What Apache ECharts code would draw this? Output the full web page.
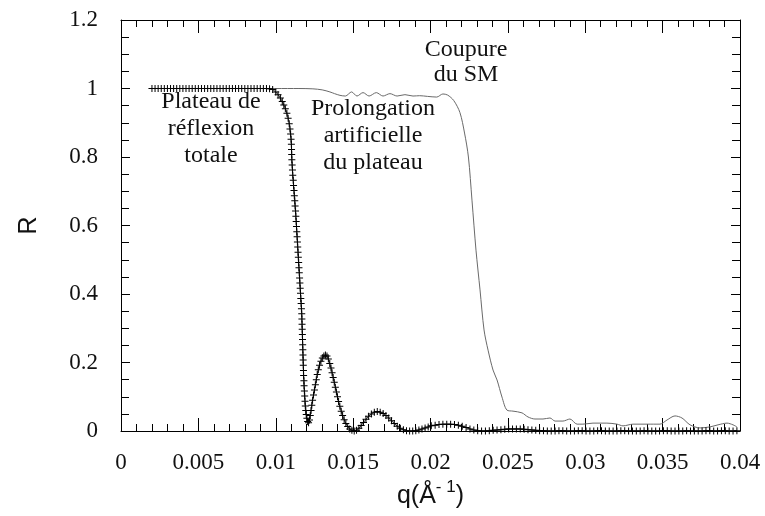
<!DOCTYPE html>
<html>
<head>
<meta charset="utf-8">
<script src="https://cdn.jsdelivr.net/npm/echarts@6/dist/echarts.min.js"></script>
<style>html,body{margin:0;padding:0;background:#fff;}#c{width:765px;height:516px;}</style>
</head>
<body>
<div id="c"></div>
<script>
// ---- data (q in Å^-1, R) ----
var xTickLabels = ['0', '0.005', '0.01', '0.015', '0.02', '0.025', '0.03', '0.035', '0.04'];
var yTickLabels = ['0', '0.2', '0.4', '0.6', '0.8', '1', '1.2'];

// simulated curve with crosses: total reflection plateau
var crossPlateau = [
  [0.0020,1],[0.0022,1],[0.0024,1],[0.0026,1],[0.0028,1],[0.0030,1],[0.0032,1],[0.0034,1],
  [0.0036,1],[0.0038,1],[0.0040,1],[0.0042,1],[0.0044,1],[0.0046,1],[0.0048,1],[0.0050,1],
  [0.0052,1],[0.0054,1],[0.0056,1],[0.0058,1],[0.0060,1],[0.0062,1],[0.0064,1],[0.0066,1],
  [0.0068,1],[0.0070,1],[0.0072,1],[0.0074,1],[0.0076,1],[0.0078,1],[0.0080,1],[0.0082,1],
  [0.0084,1],[0.0086,1],[0.0088,1],[0.0090,1],[0.0092,1],[0.0094,1],[0.0096,0.999],[0.0098,0.997],
  [0.0100,0.990],[0.01015,0.982],[0.0103,0.972],[0.01042,0.962],[0.01052,0.952],[0.01062,0.941],
  [0.01072,0.928],[0.01080,0.913],[0.01087,0.897],[0.01092,0.882],[0.01096,0.867],[0.01099,0.852]
];
// critical edge drop
var crossDrop = [
  [0.01101,0.837],[0.01102,0.822],[0.01103,0.807],[0.01104,0.792],[0.01106,0.777],[0.01108,0.762],
  [0.01110,0.747],[0.01113,0.732],[0.01115,0.717],[0.01118,0.702],[0.01120,0.687],[0.01123,0.672],
  [0.01125,0.657],[0.01128,0.642],[0.01130,0.627],[0.01132,0.612],[0.01134,0.597],[0.01136,0.582],
  [0.01138,0.567],[0.01140,0.552],[0.01142,0.537],[0.01144,0.522],[0.01146,0.507],[0.01148,0.492],
  [0.01150,0.477],[0.01152,0.462],[0.01154,0.447],[0.01156,0.432],[0.01158,0.417],[0.01160,0.402],
  [0.01162,0.387],[0.01164,0.372],[0.01166,0.357],[0.01168,0.342],[0.01169,0.327],[0.01170,0.312],
  [0.01171,0.297],[0.01172,0.282],[0.01173,0.267],[0.01174,0.252],[0.01175,0.237],[0.01176,0.222],
  [0.01177,0.207],[0.01178,0.192],[0.01179,0.177],[0.01180,0.162],[0.01182,0.147],[0.01183,0.132],
  [0.01185,0.117],[0.01187,0.102],[0.01189,0.087],[0.01191,0.073],[0.01194,0.060],[0.01197,0.048],
  [0.01201,0.037],[0.01206,0.028],[0.01212,0.024]
];
// Kiessig fringes
var crossFringes = [
  [0.01218,0.032],[0.01223,0.045],[0.01228,0.060],[0.01233,0.075],[0.01238,0.090],[0.01244,0.105],
  [0.01250,0.120],[0.01256,0.135],[0.01262,0.150],[0.01268,0.165],[0.01275,0.179],[0.01283,0.192],
  [0.01292,0.204],[0.01301,0.213],[0.01311,0.219],[0.01321,0.222],[0.01331,0.219],[0.01340,0.210],
  [0.01349,0.197],[0.01357,0.184],[0.01364,0.170],[0.01371,0.156],[0.01378,0.142],[0.01385,0.128],
  [0.01392,0.114],[0.01399,0.100],[0.01406,0.086],[0.01414,0.072],[0.01423,0.058],[0.01432,0.045],
  [0.01442,0.033],[0.01453,0.022],[0.01465,0.013],[0.01478,0.006],[0.01492,0.002],[0.01507,0.000],
  [0.01522,0.002],[0.01537,0.008],[0.01552,0.016],[0.01567,0.025],[0.01583,0.034],[0.01600,0.043],
  [0.01618,0.050],[0.01637,0.055],[0.01656,0.057],[0.01675,0.055],[0.01694,0.051],[0.01712,0.045],
  [0.01730,0.038],[0.01748,0.030],[0.01766,0.022],[0.01785,0.014],[0.01805,0.008],[0.01825,0.004],
  [0.01845,0.001],[0.01865,0.000],[0.01885,0.000],[0.01905,0.001],[0.01925,0.003],[0.01945,0.006],
  [0.01965,0.009],[0.01985,0.012],[0.02005,0.015],[0.02030,0.017],[0.02055,0.019],[0.02080,0.020],
  [0.02105,0.020],[0.02130,0.020],[0.02155,0.019],[0.02180,0.017],[0.02205,0.014],[0.02230,0.010],
  [0.02255,0.006],[0.02280,0.003],[0.02305,0.001],[0.02330,0.000],[0.02355,0.000],[0.02380,0.001],
  [0.02405,0.002],[0.02430,0.003],[0.02455,0.004],[0.02480,0.005],[0.02505,0.006],[0.02530,0.006],
  [0.02555,0.006],[0.02580,0.006],[0.02605,0.005],[0.02630,0.004],[0.02655,0.003],[0.02680,0.002],
  [0.02705,0.001],[0.02730,0.001],[0.02755,0.000]
];
var crossTail = [
  [0.02780,0.000],[0.02805,0.000],[0.02830,0.001],[0.02855,0.001],[0.02880,0.000],[0.02905,0.000],
  [0.02930,0.000],[0.02955,0.001],[0.02980,0.001],[0.03005,0.000],[0.03030,0.000],[0.03055,0.000],
  [0.03080,0.001],[0.03105,0.001],[0.03130,0.000],[0.03155,0.000],[0.03180,0.000],[0.03205,0.000],
  [0.03230,0.001],[0.03255,0.001],[0.03280,0.000],[0.03305,0.000],[0.03330,0.000],[0.03355,0.000],
  [0.03380,0.001],[0.03405,0.000],[0.03430,0.000],[0.03455,0.000],[0.03480,0.000],[0.03505,0.001],
  [0.03530,0.001],[0.03555,0.000],[0.03580,0.000],[0.03605,0.000],[0.03630,0.000],[0.03655,0.001],
  [0.03680,0.000],[0.03705,0.000],[0.03730,0.000],[0.03755,0.000],[0.03780,0.001],[0.03805,0.001],
  [0.03830,0.000],[0.03855,0.000],[0.03880,0.001],[0.03905,0.001],[0.03930,0.000],[0.03955,0.000],
  [0.03980,0.001]
];

// measured curve with cut-off of the supermirror (thin line)
var smPlateau = [
  [0.0020,1.0],[0.0040,1.0],[0.0060,1.0],[0.0080,1.0],[0.0100,1.0],[0.0115,1.0],[0.0124,0.999],
  [0.0130,0.996],[0.0135,0.990],[0.0138,0.985],[0.01415,0.980],[0.0145,0.978],[0.0149,0.990],
  [0.01525,0.978],[0.01564,0.988],[0.01603,0.978],[0.0165,0.988],[0.01693,0.978],[0.01738,0.985],
  [0.01784,0.978],[0.01835,0.982],[0.01887,0.978],[0.0193,0.979],[0.0198,0.977],[0.0204,0.975],
  [0.0208,0.984],[0.0211,0.981]
];
var smDrop = [
  [0.0215,0.965],[0.0219,0.930],[0.0222,0.870],[0.02245,0.800],[0.02268,0.674],[0.02294,0.528],
  [0.0232,0.412],[0.02346,0.295],[0.02372,0.236],[0.02404,0.178],[0.0243,0.149],[0.02462,0.099],
  [0.02494,0.061]
];
var smTail = [
  [0.02533,0.058],[0.02591,0.053],[0.0263,0.041],[0.02675,0.035],[0.02727,0.035],[0.02772,0.038],
  [0.02805,0.029],[0.02856,0.029],[0.02901,0.035],[0.02947,0.020],[0.02985,0.020],[0.0305,0.023],
  [0.0314,0.023],[0.03205,0.020],[0.03244,0.015],[0.03309,0.020],[0.03399,0.020],[0.03483,0.020],
  [0.03528,0.032],[0.0358,0.044],[0.03625,0.038],[0.03677,0.018],[0.03742,0.009],[0.03806,0.012],
  [0.03858,0.018],[0.03916,0.023],[0.03955,0.018],[0.0398,0.012]
];

var crossData = crossPlateau.concat(crossDrop, crossFringes, crossTail);
var smData = smPlateau.concat(smDrop, smTail);

var serif = "'Liberation Serif', 'Times New Roman', serif";
var sans = "'Liberation Sans', Arial, sans-serif";
var chart = echarts.init(document.getElementById('c'), null, {renderer: 'canvas'});

function xAx(pos, show) {
  return {
    type: 'value', position: pos, min: 0, max: 0.04, interval: 0.005,
    axisLine: {show: true, onZero: false, lineStyle: {color: '#000', width: 1}},
    axisTick: {show: true, inside: true, length: 13, lineStyle: {color: '#000', width: 1}},
    minorTick: {show: true, splitNumber: 5, length: 7, lineStyle: {color: '#000', width: 1}},
    splitLine: {show: false}, minorSplitLine: {show: false},
    axisLabel: {show: show, margin: 20, color: '#111', fontFamily: serif, fontSize: 23,
      formatter: function (v) { var i = Math.round(v / 0.005); return xTickLabels[i]; }},
    name: show ? '{b|q(Å}{s|- 1}{b|)}' : '',
    nameLocation: 'middle', nameGap: 48,
    nameTextStyle: {rich: {
      b: {fontFamily: sans, fontSize: 25, color: '#111', lineHeight: 30, verticalAlign: 'bottom'},
      s: {fontFamily: sans, fontSize: 17, color: '#111', lineHeight: 30, verticalAlign: 'top', padding: [0, 0, 0, 0]}
    }}
  };
}
function yAx(pos, show) {
  return {
    type: 'value', position: pos, min: 0, max: 1.2, interval: 0.2,
    axisLine: {show: true, onZero: false, lineStyle: {color: '#000', width: 1}},
    axisTick: {show: true, inside: true, length: 9, lineStyle: {color: '#000', width: 1}},
    minorTick: {show: true, splitNumber: 4, length: 8, lineStyle: {color: '#000', width: 1}},
    splitLine: {show: false}, minorSplitLine: {show: false},
    axisLabel: {show: show, margin: 23, color: '#111', fontFamily: serif, fontSize: 23,
      formatter: function (v) { var i = Math.round(v / 0.2); return yTickLabels[i]; }},
    name: show ? 'R' : '', nameLocation: 'middle', nameGap: 79,
    nameTextStyle: {fontFamily: sans, fontSize: 25, color: '#111'}
  };
}

chart.setOption({
  animation: false,
  backgroundColor: '#fff',
  grid: {left: 121, right: 25, top: 20, bottom: 85, containLabel: false},
  xAxis: [xAx('bottom', true), xAx('top', false)],
  yAxis: [yAx('left', true), yAx('right', false)],
  series: [
    {
      name: 'SM', type: 'line', xAxisIndex: 0, yAxisIndex: 0, data: smData,
      showSymbol: false, smooth: 0.3, clip: false,
      lineStyle: {color: '#6a6a6a', width: 1},
      emphasis: {disabled: true}, z: 2
    },
    {
      name: 'plateau', type: 'line', xAxisIndex: 0, yAxisIndex: 0, data: crossData,
      symbol: 'path://M3,0h1v7h-1zM0,3h7v1h-7z', symbolSize: 7, showSymbol: true, clip: false,
      itemStyle: {color: '#000', borderWidth: 0},
      lineStyle: {color: '#000', width: 0.8},
      emphasis: {disabled: true}, z: 3
    }
  ],
  graphic: [
    {type: 'text', x: 211, y: 129, silent: true, style: {text: 'Plateau de\nréflexion\ntotale',
      fontFamily: serif, fontSize: 24, lineHeight: 27, fill: '#111', align: 'center', verticalAlign: 'middle'}},
    {type: 'text', x: 373, y: 136, silent: true, style: {text: 'Prolongation\nartificielle\ndu plateau',
      fontFamily: serif, fontSize: 24, lineHeight: 27, fill: '#111', align: 'center', verticalAlign: 'middle'}},
    {type: 'text', x: 466, y: 62, silent: true, style: {text: 'Coupure\ndu SM',
      fontFamily: serif, fontSize: 24, lineHeight: 25, fill: '#111', align: 'center', verticalAlign: 'middle'}}
  ]
});
</script>
</body>
</html>
